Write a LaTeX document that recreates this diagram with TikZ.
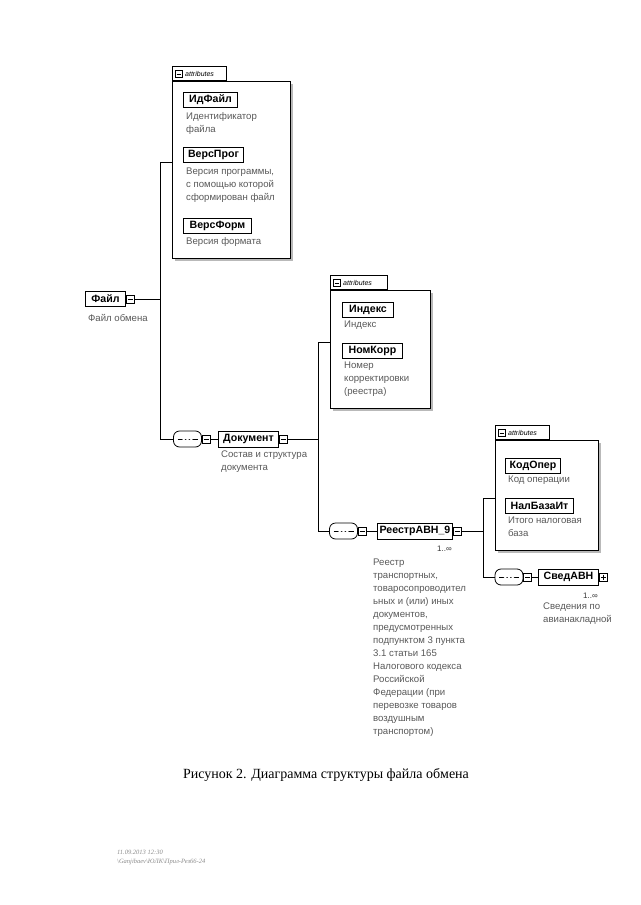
\documentclass[tikz,border=0pt]{standalone}
\usepackage{fontspec}
\setmainfont{Liberation Sans}
\newfontfamily\capfont{Liberation Serif}
\usetikzlibrary{backgrounds}
\begin{document}
\begin{tikzpicture}[x=1pt,y=-1pt,
 elem/.style={draw, line width=1pt, fill=white, font=\bfseries\fontsize{10.6}{12}\selectfont, minimum height=15pt, inner sep=0pt, anchor=west},
 desc/.style={anchor=north west, align=left, inner sep=0pt, text=black!65, font=\fontsize{9.6}{13}\selectfont},
 ico/.style={draw, fill=white, minimum size=8pt, inner sep=0pt, line width=0.6pt,
   path picture={\draw[line width=0.6pt] ([xshift=1.5pt]path picture bounding box.west) -- ([xshift=-1.5pt]path picture bounding box.east);}},
 icoplus/.style={draw, fill=white, minimum size=8pt, inner sep=0pt, line width=0.6pt,
   path picture={\draw[line width=0.6pt] ([xshift=1.5pt]path picture bounding box.west) -- ([xshift=-1.5pt]path picture bounding box.east);
     \draw[line width=0.6pt] ([yshift=-1.5pt]path picture bounding box.north) -- ([yshift=1.5pt]path picture bounding box.south);}},
 seqbox/.style={draw, line width=0.8pt, rounded corners=6pt, minimum width=28pt, minimum height=16pt, inner sep=0pt, fill=white,
   path picture={\draw[line width=0.8pt] ([xshift=4pt]path picture bounding box.west) -- ([xshift=-4pt]path picture bounding box.east);
     \fill (path picture bounding box.center) circle (1.6pt) ++(-3.8,0) circle (1.6pt) ++(7.6,0) circle (1.6pt);}},
 conn/.style={line width=0.8pt},
 attrbox/.style={draw, line width=0.8pt, fill=white, anchor=north west, inner sep=0pt},
 tabbox/.style={draw, line width=0.8pt, fill=white, anchor=south west, inner sep=0pt, minimum height=14pt},
 tablabel/.style={font=\itshape\fontsize{7}{8}\selectfont, anchor=west, inner sep=0pt},
 tabico/.style={draw, fill=white, minimum size=7pt, inner sep=0pt, line width=0.6pt, anchor=west,
   path picture={\draw[line width=0.6pt] ([xshift=1.3pt]path picture bounding box.west) -- ([xshift=-1.3pt]path picture bounding box.east);}},
 occ/.style={font=\fontsize{8}{9}\selectfont, inner sep=0pt, text=black!80},
 shadowline/.style={gray!60, line width=1.6pt, dash pattern=on 1pt off 0.8pt},
]
\useasboundingbox (0,0) rectangle (640,905);
\fill[white] (0,0) rectangle (640,905);

% ---------- attribute boxes ----------
\fill[gray!55] (175,84) rectangle (293,261);
\node[attrbox, minimum width=118pt, minimum height=177pt] (a1) at (172,81) {};
\node[tabbox, minimum width=54pt] (t1) at (172,81) {};
\node[tabico] (t1i) at (175,74) {};
\node[tablabel] (t1l) at (185,74) {attributes};

\fill[gray!55] (333,293) rectangle (433,411);
\node[attrbox, minimum width=100pt, minimum height=118pt] (a2) at (330,290) {};
\node[tabbox, minimum width=57pt] (t2) at (330,290) {};
\node[tabico] (t2i) at (333,283) {};
\node[tablabel] (t2l) at (343,283) {attributes};

\fill[gray!55] (498,443) rectangle (601,553);
\node[attrbox, minimum width=103pt, minimum height=110pt] (a3) at (495,440) {};
\node[tabbox, minimum width=54pt] (t3) at (495,440) {};
\node[tabico] (t3i) at (498,433) {};
\node[tablabel] (t3l) at (508,433) {attributes};

% ---------- elements ----------
\node[elem, minimum width=40pt] (f) at (85,299) {Файл};
\node[ico, anchor=west] (fi) at (f.east) {};

\node[elem, minimum width=54pt] (id) at (183,99.5) {ИдФайл};
\node[elem, minimum width=60pt] (vp) at (183,155) {ВерсПрог};
\node[elem, minimum width=68pt] (vf) at (183,226) {ВерсФорм};

\node[elem, minimum width=51pt] (ix) at (342,309.5) {Индекс};
\node[elem, minimum width=60pt] (nk) at (342,350.5) {НомКорр};

\node[seqbox] (s1) at (187.5,439) {};
\node[ico, anchor=west] (s1i) at (s1.east) {};
\node[elem, minimum width=60pt, minimum height=16pt] (doc) at (218,439) {Документ};
\node[ico, anchor=west] (di) at (doc.east) {};

\node[elem, minimum width=55pt] (ko) at (505,465.5) {КодОпер};
\node[elem, minimum width=68pt] (nb) at (505,506) {НалБазаИт};

\node[seqbox] (s2) at (343.5,531) {};
\node[ico, anchor=west] (s2i) at (s2.east) {};
\node[elem, minimum width=75pt, minimum height=16pt] (r) at (377,531) {РеестрАВН\_9};
\node[ico, anchor=west] (ri) at (r.east) {};

\node[seqbox] (s3) at (509,577) {};
\node[ico, anchor=west] (s3i) at (s3.east) {};
\node[elem, minimum width=60pt, minimum height=16pt] (sv) at (538,577) {СведАВН};
\node[icoplus, anchor=west] (svi) at (sv.east) {};

\begin{scope}[on background layer]
  \draw[line width=0.6pt, fill=white] ([shift={(3,3)}]r.north west) rectangle ([shift={(3,3)}]r.south east);
  \draw[line width=0.6pt, fill=white] ([shift={(3,3)}]sv.north west) rectangle ([shift={(3,3)}]sv.south east);
  \foreach \n in {f,id,vp,vf,ix,nk,doc,ko,nb} {
    \draw[shadowline] ([shift={(3,2)}]\n.south west) -- ([shift={(1,2)}]\n.south east);
  }
  \draw[shadowline] ([shift={(6,5)}]r.south west) -- ([shift={(4,5)}]r.south east);
  \draw[shadowline] ([shift={(6,5)}]sv.south west) -- ([shift={(4,5)}]sv.south east);
  \foreach \n in {s1,s2,s3} {
    \draw[shadowline] ([shift={(5,2)}]\n.south west) -- ([shift={(-3,2)}]\n.south east);
  }
\end{scope}

\node[occ, anchor=east] (ro) at (452,549) {1..∞};
\node[occ, anchor=east] (svo) at (598,596) {1..∞};

% ---------- descriptions ----------
\node[desc] (fd) at (88,314) {Файл обмена};
\node[desc] (idd) at (186,112) {Идентификатор\\файла};
\node[desc] (vpd) at (186,168) {Версия программы,\\с помощью которой\\сформирован файл};
\node[desc] (vfd) at (186,237) {Версия формата};
\node[desc] (ixd) at (344,321) {Индекс};
\node[desc] (nkd) at (344,362) {Номер\\корректировки\\(реестра)};
\node[desc] (docd) at (221,451) {Состав и структура\\документа};
\node[desc] (kod) at (508,476) {Код операции};
\node[desc] (nbd) at (508,517) {Итого налоговая\\база};
\node[desc] (rd) at (373,559) {Реестр\\транспортных,\\товаросопроводител\\ьных и (или) иных\\документов,\\предусмотренных\\подпунктом 3 пункта\\3.1 статьи 165\\Налогового кодекса\\Российской\\Федерации (при\\перевозке товаров\\воздушным\\транспортом)};
\node[desc] (svd) at (543,603) {Сведения по\\авианакладной};

% ---------- connectors ----------
\coordinate (j1a) at (160,162);
\coordinate (j1b) at (160,439);
\coordinate (j2a) at (318,342);
\coordinate (j2b) at (318,531);
\coordinate (j3a) at (483,498);
\coordinate (j3b) at (483,577);

\draw[conn] (fi.east) -- (fi.east -| j1a);
\draw[conn] (j1a) -- (j1b);
\draw[conn] (j1a) -- (j1a -| a1.west);
\draw[conn] (j1b) -- (s1.west);
\draw[conn] (s1i.east) -- (doc.west);

\draw[conn] (di.east) -- (di.east -| j2a);
\draw[conn] (j2a) -- (j2b);
\draw[conn] (j2a) -- (j2a -| a2.west);
\draw[conn] (j2b) -- (s2.west);
\draw[conn] (s2i.east) -- (r.west);

\draw[conn] (ri.east) -- (ri.east -| j3a);
\draw[conn] (j3a) -- (j3b);
\draw[conn] (j3a) -- (j3a -| a3.west);
\draw[conn] (j3b) -- (s3.west);
\draw[conn] (s3i.east) -- (sv.west);

% ---------- caption and footer ----------
\node[font=\capfont\fontsize{14}{16}\selectfont, inner sep=0pt] (cap) at (326,775) {Рисунок 2. Диаграмма структуры файла обмена};
\node[anchor=west, inner sep=0pt, font=\capfont\itshape\fontsize{6.5}{8}\selectfont, text=black!45] (ft1) at (117,852) {11.09.2013 12:30};
\node[anchor=west, inner sep=0pt, font=\capfont\itshape\fontsize{6.5}{8}\selectfont, text=black!45] (ft2) at (117,862) {\textbackslash Ganjibaev\textbackslash ЮЛК\textbackslash Прил-Рез66-24};
\end{tikzpicture}
\end{document}
